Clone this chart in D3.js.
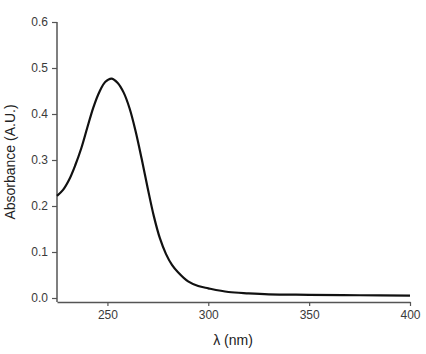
<!DOCTYPE html>
<html>
<head>
<meta charset="utf-8">
<script src="https://cdn.jsdelivr.net/npm/d3@7"></script>
<style>
  body { margin: 0; background: #fff; }
  svg text { font-family: "Liberation Sans", Arial, sans-serif; }
</style>
</head>
<body>
<div id="chart"></div>
<script>
// wavelength (nm)
var wavelength = [225, 228, 231, 234, 237, 240, 243, 246, 249, 252, 255, 258, 261, 264, 267, 270,
    273, 276, 279, 282, 285, 290, 295, 300, 310, 320, 330, 350, 375, 400];
// absorbance (A.U.)
var absorbance = [0.222, 0.235, 0.257, 0.288, 0.325, 0.370, 0.414, 0.448, 0.470, 0.477, 0.468, 0.447,
    0.412, 0.362, 0.302, 0.238, 0.178, 0.130, 0.096, 0.072, 0.056, 0.036, 0.026, 0.021, 0.013,
    0.010, 0.008, 0.007, 0.006, 0.005];

var xTicks = [250, 300, 350, 400];
var yTicks = [0.0, 0.1, 0.2, 0.3, 0.4, 0.5, 0.6];

var width = 426,
    height = 354;

var x = d3.scaleLinear().domain([225, 400]).range([57, 410]);
var y = d3.scaleLinear().domain([0, 0.6]).range([298, 22]);
var axisY = 302;

var svg = d3.select("#chart")
    .append("svg")
    .attr("width", width)
    .attr("height", height);

// y axis
var gy = svg.append("g")
    .attr("transform", "translate(57,0)")
    .call(d3.axisLeft(y).tickValues(yTicks).tickFormat(d3.format(".1f")).tickSize(5).tickSizeOuter(0).tickPadding(4));
gy.select(".domain").remove();
gy.append("line")
    .attr("class", "yline")
    .attr("x1", 0).attr("x2", 0)
    .attr("y1", y(0.6)).attr("y2", axisY);

// x axis
var gx = svg.append("g")
    .attr("transform", "translate(0," + axisY + ")")
    .call(d3.axisBottom(x).tickValues(xTicks).tickSize(4).tickSizeOuter(0).tickPadding(4));

svg.selectAll(".tick line").attr("stroke", "#555").attr("stroke-width", 1.2);
svg.selectAll(".domain, .yline").attr("stroke", "#555").attr("stroke-width", 1.5);
svg.selectAll(".tick text")
    .attr("fill", "#3a3a3a")
    .style("font-size", "12px");

// labels
svg.append("text")
    .attr("transform", "translate(15,162) rotate(-90)")
    .attr("text-anchor", "middle")
    .attr("fill", "#222")
    .style("font-size", "14px")
    .text("Absorbance (A.U.)");

svg.append("text")
    .attr("x", 233)
    .attr("y", 345)
    .attr("text-anchor", "middle")
    .attr("fill", "#222")
    .style("font-size", "14px")
    .text("λ (nm)");

// spectrum
var points = wavelength.map(function (w, i) {
    return { w: w, a: absorbance[i] };
});

var line = d3.line()
    .x(function (d) { return x(d.w); })
    .y(function (d) { return y(d.a); })
    .curve(d3.curveCatmullRom.alpha(0.5));

svg.append("path")
    .datum(points)
    .attr("d", line)
    .attr("fill", "none")
    .attr("stroke", "#111")
    .attr("stroke-width", 2.2);
</script>
</body>
</html>
